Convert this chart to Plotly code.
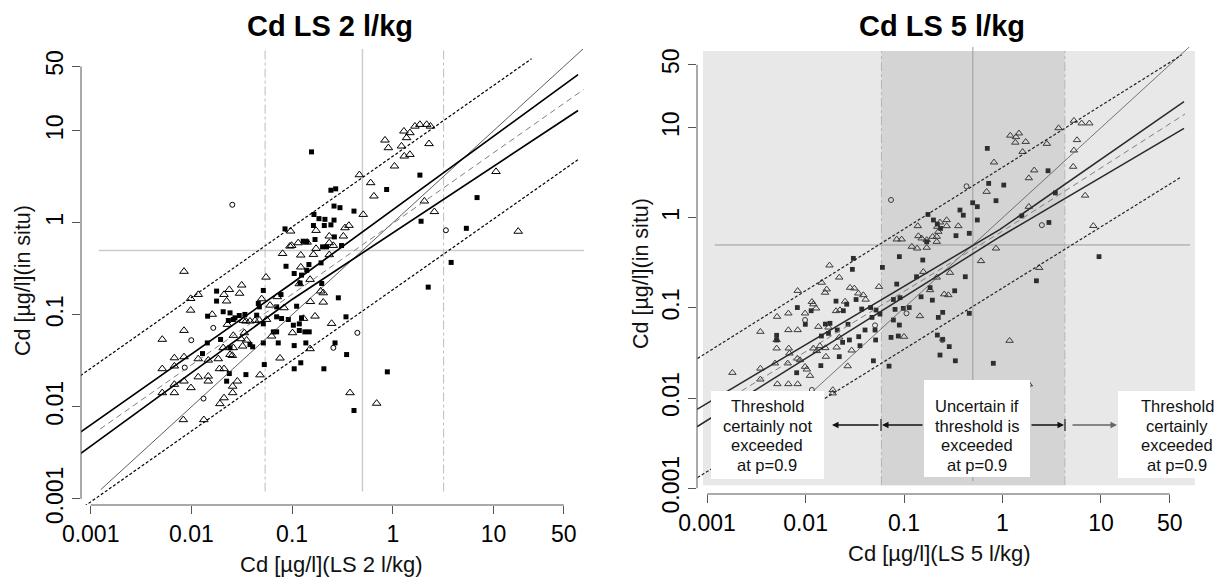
import math
import plotly.graph_objects as go

W, H = 1215, 579
FONT = "Liberation Sans, Arial, sans-serif"

# ---------------- data: LS 2 l/kg (left panel) ----------------
ls2_sq_x = [0.156, 0.243, 0.271, 0.261, 0.299, 0.412, 0.165, 0.185, 0.212, 0.261, 0.163, 0.209, 0.243,
            0.0851, 0.169, 0.129, 0.140, 0.263, 0.201, 0.220, 0.310, 0.194, 0.0871, 0.147, 0.140, 0.105,
            0.124, 0.120, 0.197, 0.0518, 0.288, 0.0178, 0.0178, 0.0462, 0.0473, 0.0776, 0.0703, 0.111,
            0.0787, 0.0207, 0.0242, 0.0271, 0.0299, 0.0340, 0.0145, 0.0233, 0.0261, 0.0445, 0.0703,
            0.0918, 0.124, 0.118, 0.103, 0.0518, 0.0652, 0.0703, 0.134, 0.148, 0.118, 0.343, 0.0195,
            0.0144, 0.0382, 0.0242, 0.0406, 0.0518, 0.0729, 0.105, 0.137, 0.0129, 0.0238, 0.0348, 0.0530,
            0.0224, 0.122, 0.105, 0.207, 0.348, 0.412, 0.883, 1.86, 0.869, 2.25, 1.91, 0.267, 3.80, 5.38, 6.87]
ls2_sq_y = [5.9, 2.26, 2.34, 1.52, 1.46, 1.34, 1.23, 1.11, 1.09, 1.07, 0.935, 0.935, 0.95,
            0.859, 0.658, 0.631, 0.621, 0.703, 0.548, 0.548, 0.566, 0.367, 0.337, 0.352, 0.305, 0.281,
            0.270, 0.222, 0.219, 0.184, 0.153, 0.181, 0.141, 0.133, 0.122, 0.166, 0.122, 0.124,
            0.0912, 0.108, 0.105, 0.0927, 0.0982, 0.101, 0.0966, 0.0867, 0.0889, 0.0991, 0.0951,
            0.0889, 0.0927, 0.0798, 0.0771, 0.0798, 0.0653, 0.0653, 0.0653, 0.0653, 0.0675, 0.0951, 0.0540,
            0.0495, 0.0475, 0.0438, 0.0449, 0.0495, 0.0495, 0.0463, 0.0495, 0.0379, 0.0230, 0.0224, 0.0288,
            0.0190, 0.0301, 0.0259, 0.0259, 0.0370, 0.00912, 0.0240, 3.30, 2.30, 0.200, 1.04, 0.0495, 0.371, 0.871, 1.88]

ls2_tri_x = [0.466, 0.603, 0.650, 0.509, 0.837, 0.904, 1.04, 1.22, 1.30, 1.48, 1.37, 1.29, 1.48, 1.66, 1.86,
             2.17, 2.06, 0.367, 0.335, 0.323, 0.234, 0.173, 0.0968, 0.115, 0.141, 0.234, 0.257, 0.173,
             0.122, 0.163, 0.234, 0.0805, 0.0953, 0.0991, 0.122, 0.118, 0.151, 0.204, 0.192, 0.204, 0.152,
             0.169, 0.130, 0.101, 0.247, 0.151, 0.0759, 0.0551, 0.0499, 0.0713, 0.0832, 0.0604, 0.0316,
             0.0301, 0.0238, 0.0224, 0.0211, 0.0161, 0.00845, 0.00984, 0.0117, 0.00984, 0.00845, 0.00514,
             0.0228, 0.0328, 0.0348, 0.0382, 0.0429, 0.0473, 0.0558, 0.0627, 0.0336, 0.0261, 0.0311,
             0.0354, 0.0323, 0.0261, 0.0207, 0.0242, 0.0255, 0.0185, 0.0147, 0.0117, 0.00845, 0.00678,
             0.00678, 0.00514, 0.00845, 0.00678, 0.00678, 0.00514, 0.00991, 0.0117, 0.0147, 0.0147, 0.0190,
             0.0211, 0.0257, 0.0286, 0.0257, 0.0211, 0.0192, 0.0480, 0.376, 0.692, 0.00832, 0.0133, 2.59,
             10.6, 17.6, 2.29, 2.37]
ls2_tri_y = [3.32, 2.72, 1.95, 1.23, 7.91, 6.53, 4.13, 6.81, 5.30, 5.52, 8.39, 9.91, 9.51, 11.2, 11.7,
             11.7, 1.72, 0.935, 0.881, 0.716, 0.716, 0.824, 0.811, 0.605, 0.615, 0.605, 0.566, 0.525,
             0.445, 0.452, 0.449, 0.463, 0.557, 0.566, 0.330, 0.217, 0.242, 0.173, 0.181, 0.137, 0.139,
             0.0966, 0.0912, 0.0637, 0.0804, 0.0427, 0.0338, 0.256, 0.149, 0.157, 0.119, 0.127, 0.210,
             0.171, 0.188, 0.141, 0.166, 0.101, 0.296, 0.150, 0.166, 0.112, 0.0675, 0.0540,
             0.0785, 0.0867, 0.0853, 0.0853, 0.0867, 0.0875, 0.0889, 0.0586, 0.0637, 0.0596, 0.0548,
             0.0530, 0.0456, 0.0438, 0.0438, 0.0370, 0.0361, 0.0332, 0.0321, 0.0332, 0.0349, 0.0340,
             0.0277, 0.0259, 0.0190, 0.0175, 0.0142, 0.0142, 0.0161, 0.0211, 0.0215, 0.0190, 0.0259,
             0.0259, 0.0167, 0.0190, 0.0142, 0.0125, 0.0108, 0.0222, 0.0142, 0.0109, 0.00723, 0.00723, 1.32,
             3.60, 0.807, 7.23, 11.2]

ls2_circ_x = [0.0255, 0.0165, 0.00998, 0.0132, 0.257, 0.445, 3.37, 0.0086]
ls2_circ_y = [1.57, 0.0721, 0.0530, 0.0123, 0.0438, 0.0637, 0.830, 0.0267]

# ---------------- data: LS 5 l/kg (right panel) ----------------
ls5_sq_x = [0.701, 0.724, 0.859, 0.498, 0.555, 0.370, 0.400, 0.337, 0.460, 0.555, 0.175, 0.199, 0.218,
            0.235, 0.170, 0.0897, 0.155, 0.0603, 0.0306, 0.0299, 0.419, 0.134, 0.0843, 0.0780, 0.0910,
            0.184, 0.149, 0.194, 0.327, 0.0262, 0.0242, 0.0204, 0.0326, 0.0372, 0.0458, 0.0520, 0.0570,
            0.0811, 0.0984, 0.113, 0.247, 0.223, 0.460, 0.00826, 0.0114, 0.00995, 0.0159, 0.0177, 0.0145,
            0.0171, 0.0210, 0.0270, 0.0279, 0.0238, 0.0347, 0.0402, 0.0473, 0.0508, 0.0515, 0.0738,
            0.0875, 0.0780, 0.0897, 0.0357, 0.0220, 0.0489, 0.0705, 0.218, 0.247, 0.288, 0.232, 0.332,
            0.807, 0.0143, 0.00813, 0.00509, 0.00509, 1.03, 2.90, 3.44, 1.57, 2.96, 9.55, 2.21]
ls5_sq_y = [5.90, 2.41, 1.55, 1.47, 1.33, 1.22, 1.07, 0.634, 0.673, 0.946, 1.09, 0.946, 0.853,
            0.764, 0.543, 0.371, 0.340, 0.282, 0.355, 0.268, 0.222, 0.222, 0.184, 0.124, 0.130,
            0.168, 0.133, 0.122, 0.155, 0.110, 0.0931, 0.119, 0.124, 0.0973, 0.101, 0.0948, 0.0855,
            0.0964, 0.0989, 0.101, 0.0893, 0.0785, 0.0871, 0.101, 0.0931, 0.0658, 0.0662, 0.0675, 0.0488,
            0.0522, 0.0569, 0.0658, 0.0441, 0.0415, 0.0480, 0.0569, 0.0785, 0.0569, 0.0441, 0.0471,
            0.0488, 0.0735, 0.0646, 0.0381, 0.0288, 0.0259, 0.0226, 0.0500, 0.0448, 0.0372, 0.0300, 0.0259,
            0.0243, 0.0229, 0.0191, 0.0497, 0.0441, 2.31, 3.33, 1.89, 1.05, 0.888, 0.371, 0.200]

ls5_tri_x = [0.820, 0.690, 0.356, 0.271, 0.232, 0.218, 0.223, 0.215, 0.271, 0.215, 0.170, 0.138, 0.140,
             0.151, 0.195, 0.0843, 0.0946, 0.120, 0.136, 0.170, 0.859, 0.605, 0.293, 0.215, 0.157, 0.184,
             0.256, 0.282, 0.145, 0.100, 0.0557, 0.0175, 0.0220, 0.0146, 0.0164, 0.0158, 0.00832, 0.0116,
             0.0128, 0.00514, 0.00670, 0.00989, 0.0204, 0.0224, 0.0252, 0.0283, 0.0313, 0.0344, 0.0386,
             0.0408, 0.00670, 0.00832, 0.00509, 0.00509, 0.00675, 0.00686, 0.00659, 0.00826, 0.00989,
             0.0103, 0.0111, 0.0130, 0.0120, 0.0140, 0.0159, 0.0161, 0.0207, 0.0220, 0.0294, 0.0268,
             0.0171, 0.0135, 0.00348, 0.00348, 0.00348, 0.00181, 0.00518, 0.00670, 0.00832, 0.0189,
             0.0189, 0.00490, 0.00879, 0.0120, 1.20, 1.37, 1.47, 1.72, 1.35, 1.60, 2.82, 3.71, 5.31,
             6.37, 7.62, 5.71, 5.31, 5.22, 2.10, 1.85, 1.85, 2.36, 6.90, 8.36, 1.18, 1.85]
ls5_tri_y = [4.13, 1.95, 0.811, 0.946, 0.891, 0.798, 0.702, 0.543, 0.811, 0.618, 0.568, 0.811, 0.628,
             0.592, 0.618, 0.577, 0.577, 0.479, 0.458, 0.467, 0.458, 0.332, 0.246, 0.218, 0.252, 0.158,
             0.142, 0.139, 0.0813, 0.0480, 0.172, 0.297, 0.218, 0.191, 0.161, 0.148, 0.155, 0.117,
             0.0989, 0.0800, 0.0871, 0.0871, 0.0925, 0.0948, 0.118, 0.168, 0.165, 0.145, 0.139,
             0.124, 0.0569, 0.0569, 0.0441, 0.0356, 0.0356, 0.0313, 0.0243, 0.0275, 0.0223,
             0.0208, 0.0177, 0.0333, 0.0356, 0.0378, 0.0359, 0.0288, 0.0365, 0.0471, 0.0338, 0.0226,
             0.0608, 0.0619, 0.0545, 0.0213, 0.0161, 0.0191, 0.0143, 0.0143, 0.0143, 0.0123,
             0.0113, 0.0243, 0.0264, 0.110, 8.20, 7.89, 8.67, 6.98, 6.85, 5.41, 6.65, 9.91, 12.0,
             11.2, 11.2, 7.31, 5.61, 3.70, 3.37, 2.76, 1.33, 0.279, 1.77, 0.815, 0.0433, 0.0142]

ls5_circ_x = [0.0738, 0.00989, 0.0508, 0.106, 0.245, 0.0116, 2.51, 0.431]
ls5_circ_y = [1.58, 0.0735, 0.0641, 0.0871, 0.0441, 0.0123, 0.830, 2.24]

# ---------------- fitted lines ----------------
ls2_fit_x = [0.00124, 78.3]
ls2_fit_y = [0.00573, 28.0]
ls2_band_x = [0.00079, 0.1, 69.2]
ls2_band_hi = [0.0053, 0.220, 40.8]
ls2_band_lo = [0.00309, 0.147, 16.6]
ls2_pred_hi_x = [0.00079, 23.9]
ls2_pred_hi_y = [0.0218, 60.7]
ls2_pred_lo_x = [0.00079, 68.9]
ls2_pred_lo_y = [0.000773, 4.84]

ls5_fit_x = [0.00123, 0.944, 71.3]
ls5_fit_y = [0.00804, 0.684, 14.2]
ls5_band_x = [0.00079, 0.944, 69.7]
ls5_band_hi = [0.0075, 0.745, 19.5]
ls5_band_lo = [0.0048, 0.617, 9.84]
ls5_pred_hi_x = [0.0008, 65.9]
ls5_pred_hi_y = [0.0275, 64.1]
ls5_pred_lo_x = [0.0008, 65.9]
ls5_pred_lo_y = [0.00131, 2.86]

one_to_one = [0.00126, 80]
ref_span = [0.0012, 80]
limit_value = 0.5
ls2_thresholds = [0.054, 3.2]
ls5_thresholds = [0.059, 4.3]

tick_vals = [0.001, 0.01, 0.1, 1, 10, 50]
tick_text = ["0.001", "0.01", "0.1", "1", "10", "50"]

# ---------------- panel geometry ----------------
PL = dict(x0=81, x1=584, y0=49, y1=505, xr=[-3.096, 1.899], yr=[-3.067, 1.889])
PR = dict(x0=697, x1=1197, y0=47, y1=494, xr=[-3.102, 1.975], yr=[-3.065, 1.896])


def px_x(p, v):
    f = (math.log10(v) - p['xr'][0]) / (p['xr'][1] - p['xr'][0])
    return p['x0'] + f * (p['x1'] - p['x0'])


def px_y(p, v):
    f = (math.log10(v) - p['yr'][0]) / (p['yr'][1] - p['yr'][0])
    return p['y1'] - f * (p['y1'] - p['y0'])


def PX(x):
    return x / W


def PY(y):
    return 1 - y / H


fig = go.Figure()


def add_line(xs, ys, color, width, dash, xa, ya):
    fig.add_trace(go.Scatter(x=xs, y=ys, mode='lines', xaxis=xa, yaxis=ya,
                             line=dict(color=color, width=width, dash=dash),
                             showlegend=False, hoverinfo='skip'))


def add_pts(xs, ys, sym, size, color, lw, xa, ya):
    fig.add_trace(go.Scatter(x=xs, y=ys, mode='markers', xaxis=xa, yaxis=ya,
                             marker=dict(symbol=sym, size=size, color=color,
                                         line=dict(width=lw, color=color)),
                             showlegend=False, hoverinfo='skip'))


# ---- left panel reference lines ----
add_line([limit_value, limit_value], ref_span, '#cccccc', 1.5, 'solid', 'x', 'y')
add_line(ref_span, [limit_value, limit_value], '#cccccc', 1.5, 'solid', 'x', 'y')
for t in ls2_thresholds:
    add_line([t, t], ref_span, '#bdbdbd', 1, 'dashdot', 'x', 'y')

# ---- right panel reference lines ----
add_line([limit_value, limit_value], ref_span, '#9a9a9a', 1, 'solid', 'x2', 'y2')
add_line(ref_span, [limit_value, limit_value], '#9a9a9a', 1, 'solid', 'x2', 'y2')
for t in ls5_thresholds:
    add_line([t, t], [0.00108, 71], '#b5b5b5', 1, 'dashdot', 'x2', 'y2')

# ---- points ----
add_pts(ls2_tri_x, ls2_tri_y, 'triangle-up-open', 7.5, 'black', 1, 'x', 'y')
add_pts(ls2_sq_x, ls2_sq_y, 'square', 5, 'black', 0, 'x', 'y')
add_pts(ls2_circ_x, ls2_circ_y, 'circle-open', 5, 'black', 1, 'x', 'y')

add_pts(ls5_tri_x, ls5_tri_y, 'triangle-up-open', 6.5, '#3a3a3a', 1, 'x2', 'y2')
add_pts(ls5_sq_x, ls5_sq_y, 'square', 4.8, '#2e2e2e', 0, 'x2', 'y2')
add_pts(ls5_circ_x, ls5_circ_y, 'circle-open', 5, '#3a3a3a', 1, 'x2', 'y2')

# ---- fitted lines left ----
add_line(one_to_one, one_to_one, '#333333', 0.8, 'solid', 'x', 'y')
add_line(ls2_pred_hi_x, ls2_pred_hi_y, 'black', 1.2, '3px,2px', 'x', 'y')
add_line(ls2_pred_lo_x, ls2_pred_lo_y, 'black', 1.2, '3px,2px', 'x', 'y')
add_line(ls2_band_x, ls2_band_hi, 'black', 1.7, 'solid', 'x', 'y')
add_line(ls2_band_x, ls2_band_lo, 'black', 1.7, 'solid', 'x', 'y')
add_line(ls2_fit_x, ls2_fit_y, '#808080', 1, '6px,4px', 'x', 'y')

# ---- fitted lines right ----
add_line(one_to_one, one_to_one, '#555555', 0.8, 'solid', 'x2', 'y2')
add_line(ls5_pred_hi_x, ls5_pred_hi_y, '#222222', 1.2, '3px,2px', 'x2', 'y2')
add_line(ls5_pred_lo_x, ls5_pred_lo_y, '#222222', 1.2, '3px,2px', 'x2', 'y2')
add_line(ls5_band_x, ls5_band_hi, '#2a2a2a', 1.5, 'solid', 'x2', 'y2')
add_line(ls5_band_x, ls5_band_lo, '#2a2a2a', 1.5, 'solid', 'x2', 'y2')
add_line(ls5_fit_x, ls5_fit_y, '#808080', 1, '6px,4px', 'x2', 'y2')

shapes = []
# background regions of the right panel
shapes.append(dict(type='rect', xref='x2', yref='y2', x0=0.00091, x1=89.9, y0=0.00108, y1=71,
                   fillcolor='#e8e8e8', line=dict(width=0), layer='below'))
shapes.append(dict(type='rect', xref='x2', yref='y2', x0=ls5_thresholds[0], x1=ls5_thresholds[1],
                   y0=0.00108, y1=71, fillcolor='#d4d4d4', line=dict(width=0), layer='below'))

# R-style axis lines (from first to last tick)
AX_COL = '#555555'
for p in (PL, PR):
    shapes.append(dict(type='line', xref='paper', yref='paper',
                       x0=PX(px_x(p, 0.001)), x1=PX(px_x(p, 50)), y0=PY(p['y1']), y1=PY(p['y1']),
                       line=dict(color=AX_COL, width=1)))
    shapes.append(dict(type='line', xref='paper', yref='paper',
                       x0=PX(p['x0']), x1=PX(p['x0']), y0=PY(px_y(p, 0.001)), y1=PY(px_y(p, 50)),
                       line=dict(color=AX_COL, width=1)))

# white label boxes
boxes = [(711, 824, 391, 479), (924, 1030, 380, 477), (1118, 1215, 391, 478)]
for bx0, bx1, by0, by1 in boxes:
    shapes.append(dict(type='rect', xref='paper', yref='paper', x0=PX(bx0), x1=PX(bx1),
                       y0=PY(by1), y1=PY(by0), fillcolor='white', line=dict(width=0), layer='above'))
# small end marks of the middle arrow
for xm in (881, 1065):
    shapes.append(dict(type='line', xref='paper', yref='paper', x0=PX(xm), x1=PX(xm),
                       y0=PY(419), y1=PY(431), line=dict(color='#222222', width=1.2), layer='above'))

annotations = []


def text_ann(text, x, y, size, angle=0, color='#111'):
    annotations.append(dict(text=text, x=PX(x), y=PY(y), xref='paper', yref='paper',
                            xanchor='center', yanchor='middle', textangle=angle,
                            showarrow=False, font=dict(family=FONT, size=size, color=color)))


# titles
text_ann('<b>Cd LS 2 l/kg</b>', 330, 26, 29, color='black')
text_ann('<b>Cd LS 5 l/kg</b>', 942, 26, 29, color='black')
# axis titles
text_ann('Cd [µg/l](LS 2 l/kg)', 331, 564, 22)
text_ann('Cd [µg/l](LS 5 l/kg)', 939, 553, 22)
text_ann('Cd [µg/l](in situ)', 23, 281, 21.5, angle=-90)
text_ann('Cd [µg/l](in situ)', 641, 274, 21.5, angle=-90)

# box texts
box_texts = [
    (767, ["Threshold", "certainly not", "exceeded", "at p=0.9"]),
    (977, ["Uncertain if", "threshold is", "exceeded", "at p=0.9"]),
    (1177, ["Threshold", "certainly", "exceeded", "at p=0.9"]),
]
for cx, lines in box_texts:
    for i, t in enumerate(lines):
        text_ann(t, cx, 406 + 19.7 * i, 16.5)

# arrows (head position, tail offset in px)
AY = 425
arrows = [(832, 48, '#111'), (882, 42, '#111'), (1064, -34, '#111'), (1117, -46, '#666')]
for hx, off, col in arrows:
    annotations.append(dict(text='', x=PX(hx), y=PY(AY), xref='paper', yref='paper',
                            ax=off, ay=0, showarrow=True, arrowhead=2, arrowsize=1,
                            arrowwidth=1.3, arrowcolor=col))

axis_common = dict(type='log', showgrid=False, zeroline=False, showline=False, automargin=False,
                   ticks='outside', ticklen=8, tickwidth=1, tickcolor=AX_COL,
                   tickvals=tick_vals, ticktext=tick_text,
                   tickfont=dict(family=FONT, size=23, color='black'))

fig.update_layout(
    template='none',
    width=W, height=H, margin=dict(l=0, r=0, t=0, b=0, autoexpand=False),
    paper_bgcolor='white', plot_bgcolor='rgba(0,0,0,0)',
    showlegend=False,
    xaxis=dict(domain=[PL['x0'] / W, PL['x1'] / W], range=PL['xr'], anchor='y', **axis_common),
    yaxis=dict(domain=[PY(PL['y1']), PY(PL['y0'])], range=PL['yr'], anchor='x', tickangle=-90, **axis_common),
    xaxis2=dict(domain=[PR['x0'] / W, PR['x1'] / W], range=PR['xr'], anchor='y2', **axis_common),
    yaxis2=dict(domain=[PY(PR['y1']), PY(PR['y0'])], range=PR['yr'], anchor='x2', tickangle=-90, **axis_common),
    shapes=shapes, annotations=annotations,
)

fig.write_html("out.html", config={'displayModeBar': False})
